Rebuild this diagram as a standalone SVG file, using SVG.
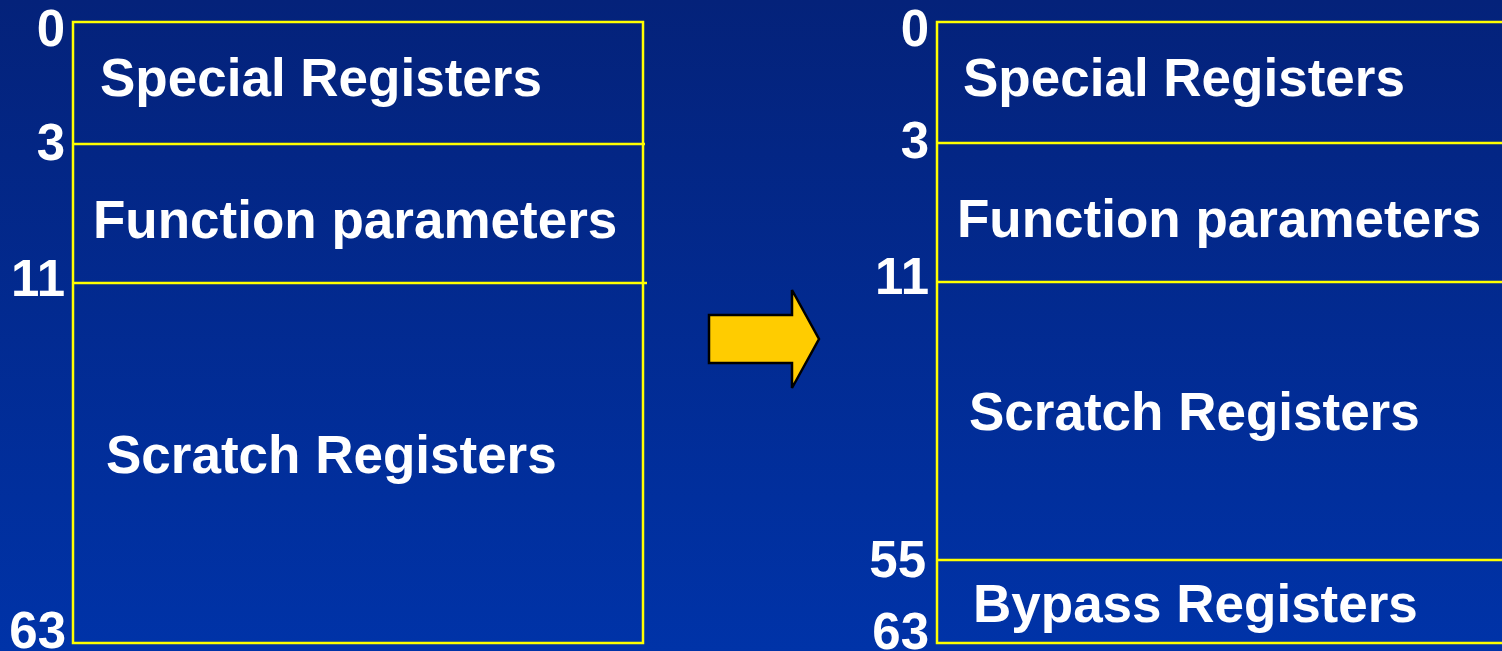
<svg xmlns="http://www.w3.org/2000/svg" width="1502" height="651" viewBox="0 0 1502 651">
<defs>
<linearGradient id="bg" x1="0" y1="0" x2="0" y2="1">
<stop offset="0" stop-color="#04227a"/>
<stop offset="1" stop-color="#0033a8"/>
</linearGradient>
<style>
.t{font-family:"Liberation Sans",Arial,sans-serif;font-weight:bold;fill:#fff;font-size:53px}
.n{font-family:"Liberation Sans",Arial,sans-serif;font-weight:bold;fill:#fff;font-size:51px;text-anchor:end}
.box{fill:none;stroke:#ffff00;stroke-width:2.5}
.ln{stroke:#ffff00;stroke-width:2.5}
</style>
</defs>
<rect width="1502" height="651" fill="url(#bg)"/>
<g id="left-map">
<rect class="box" x="73" y="22" width="570" height="621"/>
<line class="ln" x1="73" y1="144" x2="645" y2="144"/>
<line class="ln" x1="73" y1="283" x2="647" y2="283"/>
<text class="t" x="100" y="96">Special Registers</text>
<text class="t" x="93" y="238">Function parameters</text>
<text class="t" x="106" y="473">Scratch Registers</text>
<text class="n" x="65" y="46">0</text>
<text class="n" x="65" y="160">3</text>
<text class="n" x="65" y="296">11</text>
<text class="n" x="66" y="648">63</text>
</g>
<g id="arrow">
<polygon points="709,315 792,315 792,290 819,339 792,388 792,363 709,363" fill="#ffcc00" stroke="#000" stroke-width="2.5"/>
</g>
<g id="right-map">
<rect class="box" x="937" y="22" width="600" height="621"/>
<line class="ln" x1="937" y1="143" x2="1502" y2="143"/>
<line class="ln" x1="937" y1="282" x2="1502" y2="282"/>
<line class="ln" x1="937" y1="560" x2="1502" y2="560"/>
<text class="t" x="963" y="96">Special Registers</text>
<text class="t" x="957" y="237">Function parameters</text>
<text class="t" x="969" y="430">Scratch Registers</text>
<text class="t" x="973" y="622">Bypass Registers</text>
<text class="n" x="929" y="46">0</text>
<text class="n" x="929" y="158">3</text>
<text class="n" x="929" y="294">11</text>
<text class="n" x="926" y="577">55</text>
<text class="n" x="929" y="649">63</text>
</g>
</svg>
